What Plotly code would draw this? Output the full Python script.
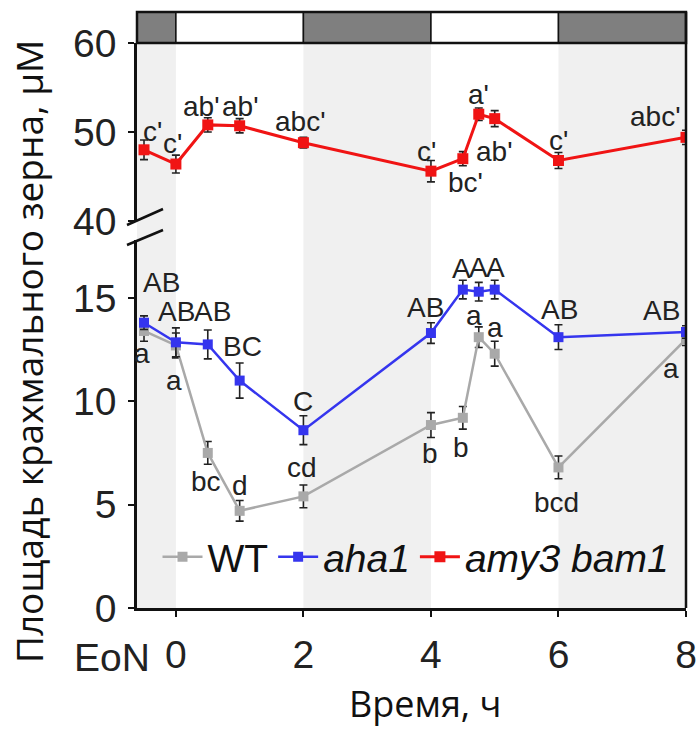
import plotly.graph_objects as go

# ---------------- data ----------------
time_points = [-0.5, 0, 0.5, 1, 2, 4, 4.5, 4.75, 5, 6, 8]

wt_values = [13.4, 12.7, 7.5, 4.7, 5.4, 8.85, 9.2, 13.1, 12.3, 6.8, 13.0]
wt_errors = [0.5, 0.6, 0.55, 0.5, 0.55, 0.6, 0.55, 0.5, 0.6, 0.55, 0.3]
wt_letters = ["a", "a", "bc", "d", "cd", "b", "b", "a", "a", "bcd", "a"]

aha1_values = [13.8, 12.85, 12.75, 11.0, 8.6, 13.3, 15.4, 15.3, 15.4, 13.1, 13.35]
aha1_errors = [0.33, 0.7, 0.7, 0.85, 0.7, 0.5, 0.45, 0.45, 0.45, 0.6, 0.3]
aha1_letters = ["AB", "AB", "AB", "BC", "C", "AB", "A", "A", "A", "AB", "AB"]

amy_values = [48.0, 46.4, 50.8, 50.7, 48.8, 45.6, 47.0, 52.0, 51.5, 46.8, 49.4]
amy_errors = [1.1, 1.0, 0.8, 0.8, 0.6, 1.2, 0.8, 0.7, 0.9, 0.9, 0.8]
amy_letters = ["c'", "c'", "ab'", "ab'", "abc'", "c'", "bc'", "a'", "ab'", "c'", "abc'"]

period_start = [-0.61, 0, 2, 4, 6]
period_end = [0, 2, 4, 6, 8]
period_dark = [True, False, True, False, True]

x_ticks = [0, 2, 4, 6, 8]
y_ticks_low = [0, 5, 10, 15]
y_ticks_high = [40, 50, 60]

# ---------------- label offsets (pixels: dx right, dy down) ----------------
wt_off = [(-2, 23), (-2, 35), (-2, 29), (0, -25), (-1, -29), (-1, 28), (-2, 30),
          (-5, -22), (0, -26), (-2, 35), (-15, 29)]
aha1_off = [(17, -40), (1, -31), (5, -33), (3, -34), (0, -29), (-5, -26), (-1, -21),
            (0, -24), (1, -22), (1, -28), (-25, -22)]
amy_off = [(8, -18), (-3, -21), (-6, -18), (1, -19), (-3, -21), (-4, -20), (3, 24),
           (0, -20), (0, 33), (0, -20), (-31, -21)]

# ---------------- geometry ----------------
W, H = 699, 731
ML, MR, MT, MB = 137, 13, 12, 123
PW = W - ML - MR
PH = H - MT - MB
BOTTOM = H - MB


def py(p):
    return (BOTTOM - p) / PH


def px(p):
    return (p - ML) / PW


low_dom = [0, py(240)]
high_dom = [py(221), py(43)]
bar_lo = py(43)

FONT = "Liberation Sans, Arial, sans-serif"
TITLE_FONT = "Open Sans, Noto Sans, sans-serif"

GRAY = "#a9a9a9"
BLUE = "#3535ee"
RED = "#f01414"

fig = go.Figure()

err_style = dict(type="data", color="#222222", thickness=1.6, width=4)

fig.add_trace(go.Scatter(
    x=time_points, y=wt_values, name="WT", mode="lines+markers",
    line=dict(color=GRAY, width=2.5),
    marker=dict(symbol="square", size=10, color=GRAY),
    error_y=dict(array=wt_errors, **err_style),
    xaxis="x", yaxis="y"))

fig.add_trace(go.Scatter(
    x=time_points, y=aha1_values, name="<i>aha1</i>", mode="lines+markers",
    line=dict(color=BLUE, width=2.5),
    marker=dict(symbol="square", size=10, color=BLUE),
    error_y=dict(array=aha1_errors, **err_style),
    xaxis="x", yaxis="y"))

fig.add_trace(go.Scatter(
    x=time_points, y=amy_values, name="<i>amy3 bam1</i>", mode="lines+markers",
    line=dict(color=RED, width=3),
    marker=dict(symbol="square", size=11, color=RED),
    error_y=dict(array=amy_errors, **err_style),
    xaxis="x", yaxis="y2"))

# letter annotations
annotations = []
for vals, letters, offs, yref in [
    (wt_values, wt_letters, wt_off, "y"),
    (aha1_values, aha1_letters, aha1_off, "y"),
    (amy_values, amy_letters, amy_off, "y2"),
]:
    for t, v, s, (dx, dy) in zip(time_points, vals, letters, offs):
        annotations.append(dict(
            x=t, y=v, xref="x", yref=yref, text=s, showarrow=False,
            xshift=dx, yshift=-dy, xanchor="center", yanchor="middle",
            font=dict(family=FONT, size=28, color="#222222")))

annotations.append(dict(
    x=px(112), y=py(657), xref="paper", yref="paper", text="EoN",
    showarrow=False, xanchor="center", yanchor="middle",
    font=dict(family=FONT, size=39, color="#222222")))
annotations.append(dict(
    x=px(425), y=py(729), xref="paper", yref="paper", text="Время, ч",
    showarrow=False, xanchor="center", yanchor="bottom", borderpad=0,
    font=dict(family=TITLE_FONT, size=36, color="#111111")))
annotations.append(dict(
    x=px(28), y=py(352), xref="paper", yref="paper",
    text="Площадь крахмального зерна, μM", textangle=-90,
    showarrow=False, xanchor="center", yanchor="middle", borderpad=0,
    font=dict(family=TITLE_FONT, size=37, color="#111111")))

shapes = []
for x0, x1, dark in zip(period_start, period_end, period_dark):
    if dark:
        shapes.append(dict(type="rect", xref="x", yref="paper", x0=x0, x1=x1,
                           y0=0, y1=bar_lo, fillcolor="#f0f0f0",
                           line=dict(width=0), layer="below"))
    shapes.append(dict(type="rect", xref="x", yref="paper", x0=x0, x1=x1,
                       y0=bar_lo, y1=1, fillcolor="#7f7f7f" if dark else "white",
                       line=dict(color="#111111", width=1.5), layer="above"))
# outline of light bar and right border
shapes.append(dict(type="rect", xref="paper", yref="paper", x0=0, x1=1,
                   y0=bar_lo, y1=1, line=dict(color="#111111", width=2.5)))
shapes.append(dict(type="line", xref="paper", yref="paper", x0=1, x1=1,
                   y0=0, y1=1, line=dict(color="#111111", width=2.5)))
# axis break marks
shapes.append(dict(type="line", xref="paper", yref="paper",
                   x0=px(127), y0=py(225), x1=px(163), y1=py(209),
                   line=dict(color="#111111", width=2.5)))
shapes.append(dict(type="line", xref="paper", yref="paper",
                   x0=px(127), y0=py(245), x1=px(163), y1=py(230),
                   line=dict(color="#111111", width=2.5)))

axis_common = dict(showgrid=False, zeroline=False, showline=True,
                   linecolor="#111111", linewidth=2.5, ticks="outside",
                   ticklen=6, tickwidth=2, tickcolor="#111111",
                   automargin=False,
                   tickfont=dict(family=FONT, size=39, color="#222222"))

fig.update_layout(
    template="none",
    width=W, height=H,
    margin=dict(l=ML, r=MR, t=MT, b=MB, pad=0, autoexpand=False),
    paper_bgcolor="white", plot_bgcolor="rgba(0,0,0,0)",
    xaxis=dict(range=[-0.61, 8], tickvals=x_ticks,
               ticktext=[str(v) for v in x_ticks], anchor="y",
               ticklabelstandoff=4, **axis_common),
    yaxis=dict(range=[0, 17.8], domain=low_dom, tickvals=y_ticks_low,
               anchor="x", ticklabelstandoff=4, **axis_common),
    yaxis2=dict(range=[40, 60], domain=high_dom, tickvals=y_ticks_high,
                anchor="x", ticklabelstandoff=4, **axis_common),
    showlegend=True,
    legend=dict(orientation="h", x=px(416), y=py(557), xanchor="center",
                yanchor="middle", bgcolor="rgba(0,0,0,0)",
                font=dict(family=FONT, size=39, color="#111111"),
                itemwidth=40, tracegroupgap=0),
    annotations=annotations,
    shapes=shapes,
)

fig.write_html(
    "out.html",
    config={"displayModeBar": False},
    post_script="document.body.style.margin='0';document.body.style.overflow='hidden';",
)
